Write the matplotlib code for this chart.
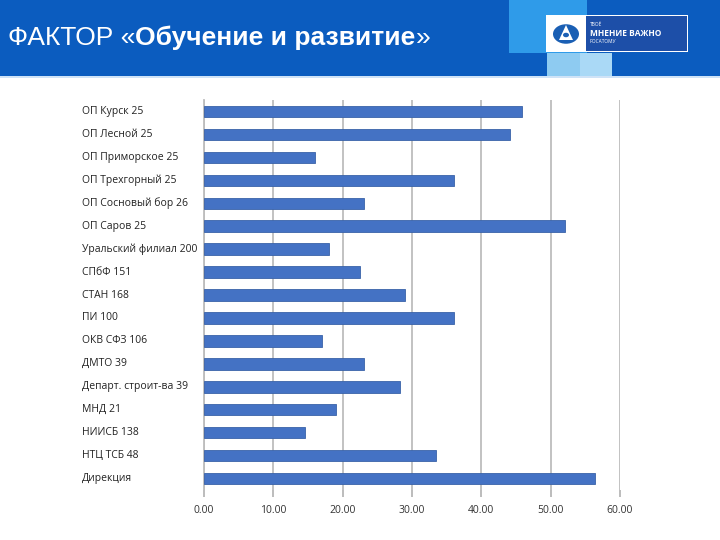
import matplotlib.pyplot as plt
import matplotlib.patches as patches
import matplotlib.transforms as mtransforms

categories = [
    "ОП Курск 25",
    "ОП Лесной 25",
    "ОП Приморское 25",
    "ОП Трехгорный 25",
    "ОП Сосновый бор 26",
    "ОП Саров 25",
    "Уральский филиал 200",
    "СПбФ 151",
    "СТАН 168",
    "ПИ 100",
    "ОКВ СФЗ 106",
    "ДМТО 39",
    "Департ. строит-ва 39",
    "МНД 21",
    "НИИСБ 138",
    "НТЦ ТСБ 48",
    "Дирекция",
]
values = [45.9, 44.1, 16.0, 36.1, 23.1, 52.1, 18.0, 22.5, 29.0,
          36.1, 17.0, 23.1, 28.2, 19.0, 14.5, 33.4, 56.4]
xticks = [0, 10, 20, 30, 40, 50, 60]

plt.rcParams['font.family'] = ['Open Sans', 'DejaVu Sans']

fig = plt.figure(figsize=(7.2, 5.4), dpi=100)
W, H = 720, 540


def px(x0, y0, w, h):
    # pixel box (top-left origin) -> figure fraction rect
    return (x0 / W, 1 - (y0 + h) / H), w / W, h / H


def rect(x0, y0, w, h, color, **kw):
    xy, fw, fh = px(x0, y0, w, h)
    fig.patches.append(patches.Rectangle(xy, fw, fh, transform=fig.transFigure,
                                         facecolor=color, edgecolor='none', **kw))


# header band
rect(0, 0, 720, 76, '#0b5cbf')
rect(0, 76, 720, 2, '#cfe3f7')
rect(509, 0, 78, 53, '#2f9be9')
rect(547, 53, 33, 23, '#8ecbf1')
rect(580, 53, 32, 23, '#aad9f6')
# logo
rect(546, 15, 142, 37, '#ffffff')
rect(586, 16, 101, 35, '#1d4fa8')
xy, _, _ = px(566, 34, 0, 0)
fig.patches.append(patches.Circle(xy, 13 / W, transform=fig.transFigure,
                                  facecolor='#1a5fb4', edgecolor='none'))
tri = [((566) / W, 1 - 25 / H), ((559) / W, 1 - 40 / H), ((573) / W, 1 - 40 / H)]
fig.patches.append(patches.Polygon(tri, closed=True, transform=fig.transFigure,
                                   facecolor='white', edgecolor='none'))
fig.patches.append(patches.Circle(((566) / W, 1 - 35 / H), 3 / W,
                                  transform=fig.transFigure,
                                  facecolor='#1a5fb4', edgecolor='none'))
fig.text(590 / W, 1 - 24 / H, "ТВОЁ", color='white', fontsize=3.5, va='center')
fig.text(590 / W, 1 - 33 / H, "МНЕНИЕ ВАЖНО", color='white', fontsize=6,
         fontweight='bold', va='center')
fig.text(590 / W, 1 - 42 / H, "РОСАТОМУ", color='white', fontsize=3.5, va='center')

# title in three pieces
renderer = fig.canvas.get_renderer()
x = 8 / W
ty = 1 - 38 / H
for part, weight in [("ФАКТОР «", 'normal'), ("Обучение и развитие", 'bold'), ("»", 'normal')]:
    t = fig.text(x, ty, part, color='white', fontsize=19, fontweight=weight,
                 va='center', family=['Liberation Sans', 'DejaVu Sans'])
    bb = t.get_window_extent(renderer=renderer)
    x += bb.width / W

# chart
ax = fig.add_axes([204 / W, 50 / H, 416 / W, 390 / H])
ypos = list(range(len(categories)))[::-1]
ax.barh(ypos, values, height=0.5, color='#4472c4', edgecolor='#3a62a8',
        linewidth=0.6, zorder=3)
ax.set_xlim(0, 60)
ax.set_ylim(-0.5, len(categories) - 0.5)
ax.set_xticks(xticks)
ax.set_xticklabels([f"{v:.2f}" for v in xticks], fontsize=7.5, color='#333333')
ax.tick_params(axis='x', length=5, color='#b0b0b0', width=1.2, pad=6)
ax.set_yticks([])
ax.grid(axis='x', color='#bdbdbd', linewidth=1.3, zorder=0)
for s in ['top', 'right', 'bottom']:
    ax.spines[s].set_visible(False)
ax.spines['left'].set_color('#bdbdbd')
ax.spines['left'].set_linewidth(1.3)

trans = mtransforms.blended_transform_factory(fig.transFigure, ax.transData)
for yp, label in zip(ypos, categories):
    fig.text(82 / W, yp, label, transform=trans, fontsize=7.5, color='#222222',
             va='center', ha='left')

fig.savefig("out.png", dpi=100)
